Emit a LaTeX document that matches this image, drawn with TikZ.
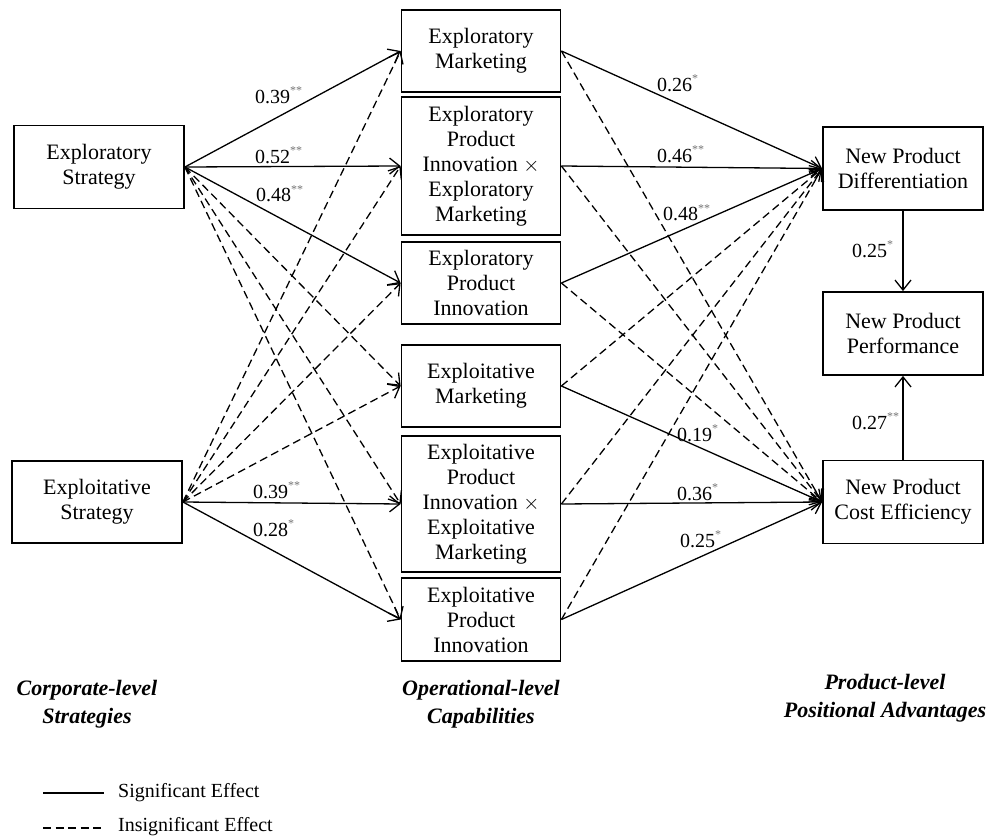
\documentclass[tikz,border=0pt]{standalone}
\usepackage{fontspec}
\setmainfont{Liberation Serif}
\usetikzlibrary{arrows.meta}
\newcommand\stars[1]{\raisebox{9pt}{\fontsize{12}{12}\selectfont\color{black!55}#1}}
\begin{document}
\begin{tikzpicture}[x=1pt,y=-1pt,
  box/.style={draw, line width=1.8pt, align=center, inner sep=0pt,
    font=\fontsize{22}{25}\selectfont},
  sig/.style={line width=1.3pt, -{Straight Barb[length=10pt,width=16pt,line width=1.3pt]}},
  insig/.style={sig, dash pattern=on 8pt off 4.5pt},
  lab/.style={font=\fontsize{20}{24}\selectfont, inner sep=0pt, anchor=base west},
  lvl/.style={font=\fontsize{22}{28}\selectfont\bfseries\itshape, align=center, inner sep=0pt},
  leg/.style={font=\fontsize{20}{22}\selectfont, inner sep=0pt, anchor=west},
  legline/.style={line width=1.3pt}
]
\useasboundingbox (0,0) rectangle (990,837);
% left
\node[box, minimum width=170pt, minimum height=83pt] (es) at (99,167) {Exploratory\\Strategy};
\node[box, minimum width=170pt, minimum height=82pt] (xs) at (97,502) {Exploitative\\Strategy};
% middle
\node[box, minimum width=159pt, minimum height=82pt] (m1) at (481,51) {Exploratory\\Marketing};
\node[box, minimum width=159pt, minimum height=138pt] (m2) at (481,166) {Exploratory\\Product\\Innovation $\times$\\Exploratory\\Marketing};
\node[box, minimum width=159pt, minimum height=82pt] (m3) at (481,283) {Exploratory\\Product\\Innovation};
\node[box, minimum width=159pt, minimum height=82pt] (m4) at (481,386) {Exploitative\\Marketing};
\node[box, minimum width=159pt, minimum height=136pt] (m5) at (481,504) {Exploitative\\Product\\Innovation $\times$\\Exploitative\\Marketing};
\node[box, minimum width=159pt, minimum height=83pt] (m6) at (481,619.5) {Exploitative\\Product\\Innovation};
% right
\node[box, minimum width=160pt, minimum height=83pt] (r1) at (903,168.5) {New Product\\Differentiation};
\node[box, minimum width=160pt, minimum height=83pt] (r2) at (903,333.5) {New Product\\Performance};
\node[box, minimum width=160pt, minimum height=83pt] (r3) at (903,502) {New Product\\Cost Efficiency};
% left -> middle
\draw[insig] (es.east) -- (m4.west);
\draw[insig] (es.east) -- (m5.west);
\draw[insig] (es.east) -- (m6.west);
\draw[insig] (xs.east) -- (m1.west);
\draw[insig] (xs.east) -- (m2.west);
\draw[insig] (xs.east) -- (m3.west);
\draw[insig] (xs.east) -- (m4.west);
\draw[sig] (es.east) -- (m1.west);
\draw[sig] (es.east) -- (m2.west);
\draw[sig] (es.east) -- (m3.west);
\draw[sig] (xs.east) -- (m5.west);
\draw[sig] (xs.east) -- (m6.west);
% middle -> right
\draw[insig] (m1.east) -- (r3.west);
\draw[insig] (m2.east) -- (r3.west);
\draw[insig] (m3.east) -- (r3.west);
\draw[insig] (m4.east) -- (r1.west);
\draw[insig] (m5.east) -- (r1.west);
\draw[insig] (m6.east) -- (r1.west);
\draw[sig] (m1.east) -- (r1.west);
\draw[sig] (m2.east) -- (r1.west);
\draw[sig] (m3.east) -- (r1.west);
\draw[sig] (m4.east) -- (r3.west);
\draw[sig] (m5.east) -- (r3.west);
\draw[sig] (m6.east) -- (r3.west);
% right column
\draw[sig] (r1.south) -- (r2.north);
\draw[sig] (r3.north) -- (r2.south);
% labels
\node[lab] (l1) at (255,104) {0.39\stars{**}};
\node[lab] (l2) at (255,164) {0.52\stars{**}};
\node[lab] (l3) at (256,202) {0.48\stars{**}};
\node[lab] (l4) at (253,498) {0.39\stars{**}};
\node[lab] (l5) at (253,536) {0.28\stars{*}};
\node[lab] (l6) at (657,92) {0.26\stars{*}};
\node[lab] (l7) at (657,163) {0.46\stars{**}};
\node[lab] (l8) at (663,221) {0.48\stars{**}};
\node[lab] (l9) at (677,441) {0.19\stars{*}};
\node[lab] (l10) at (677,500) {0.36\stars{*}};
\node[lab] (l11) at (680,547) {0.25\stars{*}};
\node[lab] (l12) at (852,257) {0.25\stars{*}};
\node[lab] (l13) at (852,429) {0.27\stars{**}};
% level captions
\node[lvl] (c1) at (87,704) {Corporate-level\\Strategies};
\node[lvl] (c2) at (481,704) {Operational-level\\Capabilities};
\node[lvl] (c3) at (885,698) {Product-level\\Positional Advantages};
% legend
\coordinate (a1) at (43,793);
\coordinate (a2) at (104,793);
\coordinate (b1) at (43,828);
\coordinate (b2) at (104,828);
\draw[legline] (a1) -- (a2);
\draw[legline, dash pattern=on 8pt off 4.5pt] (b1) -- (b2);
\node[leg] (t1) at (118,793) {Significant Effect};
\node[leg] (t2) at (118,827) {Insignificant Effect};
\end{tikzpicture}
\end{document}
